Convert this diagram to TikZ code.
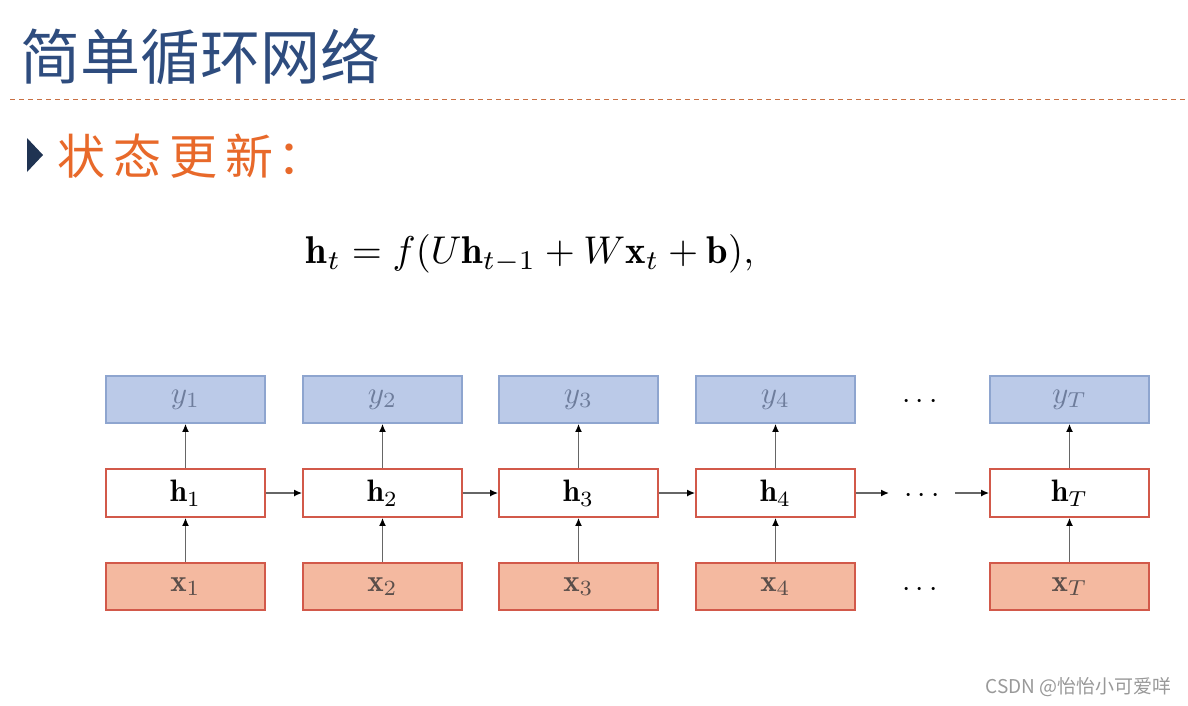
\documentclass[tikz,border=0pt]{standalone}
\usepackage{fontspec}
\usepackage{graphicx}
\usetikzlibrary{arrows.meta,calc}
\newfontfamily\cjk{Noto Sans CJK SC}
\definecolor{titleblue}{HTML}{2E4C7E}
\definecolor{subor}{HTML}{E8692A}
\definecolor{navy}{HTML}{1F3352}
\definecolor{yfill}{HTML}{BBCAE8}
\definecolor{ydraw}{HTML}{8EA5CF}
\definecolor{rdraw}{HTML}{D2594A}
\definecolor{xfill}{HTML}{F4B9A0}
\definecolor{ylab}{HTML}{6E7D9C}
\definecolor{xlab}{HTML}{5A4E4A}
\definecolor{arrgray}{HTML}{666666}
\newcommand{\cellm}[1]{\raisebox{-2pt}{\scalebox{3.1}{$#1$}}}
\tikzset{
  cell/.style={minimum width=159pt,minimum height=47pt,inner sep=0pt,line width=1.8pt},
  ybox/.style={cell,fill=yfill,draw=ydraw,text=ylab},
  hbox/.style={cell,fill=white,draw=rdraw,text=black},
  xbox/.style={cell,fill=xfill,draw=rdraw,text=xlab},
  conn/.style={draw=arrgray,line width=1.4pt,-{Latex[length=8pt,width=7pt,color=black]}},
  dotsnode/.style={inner sep=0pt},
}
\begin{document}
\begin{tikzpicture}[x=1pt,y=-1pt]
\useasboundingbox (0,0) rectangle (1188,705);
\fill[white] (0,0) rectangle (1188,705);
% title
\node[anchor=west,inner sep=0pt,text=titleblue,font=\cjk\fontsize{60}{66}\selectfont] (title) at (20,57) {简单循环网络};
\draw[draw=subor!70!gray,line width=0.8pt,dash pattern=on 5pt off 4pt] (10,99) -- (1188,99);
% bullet
\fill[navy] (27,138) -- (43,155) -- (27,172) -- cycle;
\node[anchor=west,inner sep=0pt,text=subor,font=\cjk\fontsize{48}{54}\selectfont] (sub) at (57,156) {状\hspace{8pt}态\hspace{8pt}更\hspace{8pt}新\hspace{4pt}：};
% formula
\node[inner sep=0pt] (eq) at (530,254) {\resizebox{448pt}{!}{$\mathbf{h}_t = f(U\mathbf{h}_{t-1} + W\mathbf{x}_t + \mathbf{b}),$}};
% boxes
\foreach \i/\cx/\lab in {1/185.5/1,2/382.5/2,3/578.5/3,4/775.5/4,T/1069.5/T}{
  \node[ybox] (y\i) at (\cx,399.5) {\cellm{y_{\lab}}};
  \node[hbox,minimum height=48pt] (h\i) at (\cx,493) {\cellm{\mathbf{h}_{\lab}}};
  \node[xbox] (x\i) at (\cx,586.5) {\cellm{\mathbf{x}_{\lab}}};
  \draw[conn] (x\i) -- (h\i);
  \draw[conn] (h\i) -- (y\i);
}
\draw[conn] (h1) -- (h2);
\draw[conn] (h2) -- (h3);
\draw[conn] (h3) -- (h4);
\node[dotsnode] (dy) at (920,402) {\scalebox{3}{$\cdots$}};
\node[dotsnode] (dh) at (922,496) {\scalebox{3}{$\cdots$}};
\node[dotsnode] (dx) at (920,590) {\scalebox{3}{$\cdots$}};
\coordinate (a1) at (889,493);
\coordinate (a2) at (955,493);
\draw[conn] (h4) -- (a1);
\draw[conn] (a2) -- (hT);
% watermark
\node[anchor=east,inner sep=0pt,text=gray!80,font=\cjk\fontsize{19}{22}\selectfont] (wm) at (1172,687) {CSDN @怡怡小可爱咩};
\end{tikzpicture}
\end{document}
